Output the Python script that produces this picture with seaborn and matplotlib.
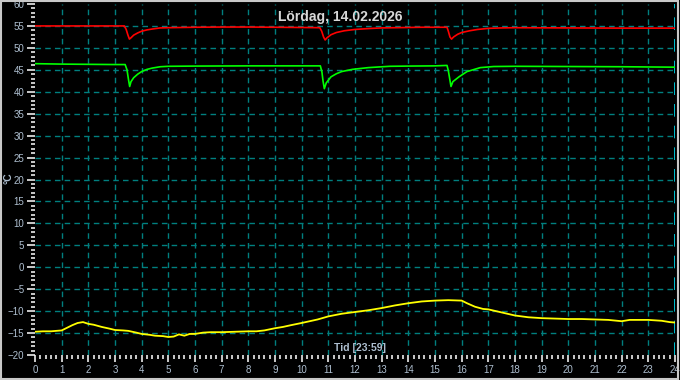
import matplotlib
matplotlib.use("Agg")
import matplotlib.pyplot as plt
import seaborn as sns
import pandas as pd
from matplotlib.patches import Rectangle
from matplotlib.ticker import MultipleLocator

# ---------------- data ----------------
title_text = "Lördag, 14.02.2026"
xlabel_text = "Tid [23:59]"
ylabel_text = "°C"

red_t = [0, 1.0, 2.0, 3.0, 3.35, 3.42, 3.48, 3.54, 3.6, 3.7, 3.85, 4.0, 4.2, 4.4, 4.7, 5.0,
         6.0, 7.0, 8.0, 9.0, 10.0, 10.68, 10.75, 10.82, 10.88, 10.95, 11.1, 11.3, 11.6,
         12.0, 12.5, 13.0, 13.5, 14.0, 14.5, 15.0, 15.45, 15.5, 15.56, 15.62, 15.7, 15.85,
         16.0, 16.3, 16.6, 17.0, 17.5, 18.0, 20.0, 22.0, 24.0]
red_v = [55.0, 55.0, 55.0, 55.0, 55.0, 54.2, 53.0, 52.0, 52.3, 52.9, 53.4, 53.8, 54.1, 54.3, 54.55, 54.6,
         54.7, 54.75, 54.75, 54.7, 54.65, 54.6, 53.8, 52.5, 51.8, 52.3, 53.0, 53.5, 53.9,
         54.2, 54.4, 54.55, 54.6, 54.65, 54.7, 54.7, 54.7, 53.8, 52.5, 52.0, 52.5, 53.1,
         53.5, 53.9, 54.2, 54.45, 54.55, 54.6, 54.55, 54.5, 54.5]

green_t = [0, 1.0, 2.0, 3.0, 3.38, 3.45, 3.5, 3.55, 3.6, 3.7, 3.85, 4.0, 4.2, 4.4, 4.7, 5.0,
           6.0, 8.0, 10.0, 10.7, 10.76, 10.8, 10.85, 10.92, 11.1, 11.3, 11.5, 11.9, 12.5,
           13.3, 14.0, 15.0, 15.45, 15.5, 15.55, 15.6, 15.67, 15.9, 16.2, 16.7, 17.2, 18.0,
           20.0, 22.0, 24.0]
green_v = [46.4, 46.3, 46.25, 46.2, 46.2, 45.0, 43.0, 41.2, 42.3, 43.2, 44.0, 44.6, 45.1, 45.4, 45.7, 45.8,
           45.85, 45.9, 45.9, 45.9, 44.5, 42.5, 40.7, 42.0, 43.4, 44.1, 44.6, 45.1, 45.5,
           45.8, 45.85, 45.9, 46.0, 44.8, 43.0, 41.2, 42.3, 43.4, 44.6, 45.5, 45.75, 45.8,
           45.75, 45.7, 45.6]

yellow_t = [0, 0.3, 0.6, 1.0, 1.2, 1.4, 1.6, 1.8, 2.0, 2.2, 2.5, 2.8, 3.0, 3.3, 3.5, 3.8,
            4.0, 4.3, 4.5, 4.8, 5.0, 5.2, 5.4, 5.6, 5.8, 6.0, 6.3, 6.6, 7.0, 7.5, 8.0, 8.3,
            8.6, 9.0, 9.3, 9.6, 10.0, 10.3, 10.6, 11.0, 11.5, 12.0, 12.5, 13.0, 13.5, 14.0,
            14.5, 15.0, 15.5, 16.0, 16.2, 16.5, 16.8, 17.0, 17.5, 18.0, 18.5, 19.0, 19.5,
            20.0, 20.5, 21.0, 21.5, 22.0, 22.3, 22.6, 23.0, 23.5, 23.8, 24.0]
yellow_v = [-14.7, -14.6, -14.6, -14.4, -13.8, -13.2, -12.7, -12.5, -12.9, -13.1, -13.6, -14.0, -14.3, -14.4, -14.5, -14.9,
            -15.2, -15.4, -15.6, -15.7, -15.9, -15.8, -15.3, -15.6, -15.2, -15.2, -14.9, -14.8, -14.8, -14.7, -14.6, -14.6,
            -14.4, -13.9, -13.6, -13.2, -12.7, -12.3, -11.9, -11.2, -10.6, -10.2, -9.8, -9.3, -8.7, -8.2,
            -7.8, -7.6, -7.5, -7.6, -8.2, -9.0, -9.5, -9.6, -10.3, -11.0, -11.4, -11.6, -11.7,
            -11.8, -11.8, -11.9, -12.0, -12.3, -12.0, -12.0, -12.0, -12.2, -12.5, -12.6]

x_ticks = list(range(0, 25))
y_ticks = list(range(-20, 61, 5))

# ---------------- style ----------------
BG = "#000000"
GRID = "#007f7f"
TICKTXT = "#aebfd0"
PT = 0.72  # points per pixel at 100 dpi

sns.set_style("ticks", rc={"axes.facecolor": BG, "figure.facecolor": BG})
plt.rcParams["font.family"] = ["Liberation Sans", "DejaVu Sans"]

fig = plt.figure(figsize=(6.8, 3.8), dpi=100, facecolor=BG)
ax = fig.add_axes([35 / 680, 1 - 355 / 380, 640 / 680, 351 / 380])
ax.set_facecolor(BG)

df_r = pd.DataFrame({"t": red_t, "v": red_v})
df_g = pd.DataFrame({"t": green_t, "v": green_v})
df_y = pd.DataFrame({"t": yellow_t, "v": yellow_v})

for xv in x_ticks[1:-1]:
    ax.axvline(xv, color=GRID, lw=1, ls=(0, (4, 3)), zorder=1)
for yv in y_ticks[1:-1]:
    ax.axhline(yv, color=GRID, lw=1, ls=(0, (4, 3)), zorder=1)
ax.axvline(24, color="#00d0e0", lw=1.3, ls=(0, (7, 5)), zorder=1)

sns.lineplot(data=df_r, x="t", y="v", ax=ax, color="#ff0000", lw=1.2, zorder=3)
sns.lineplot(data=df_g, x="t", y="v", ax=ax, color="#00ff00", lw=1.2, zorder=3)
sns.lineplot(data=df_y, x="t", y="v", ax=ax, color="#ffff00", lw=1.3, zorder=3)

ax.set_xlim(0, 24)
ax.set_ylim(-20, 60)
ax.set_xticks(x_ticks)
ax.set_yticks(y_ticks)
ax.xaxis.set_minor_locator(MultipleLocator(0.2))
ax.yaxis.set_minor_locator(MultipleLocator(1))
ax.grid(False)
for s in ax.spines.values():
    s.set_visible(False)
ax.tick_params(axis="both", which="both", bottom=True, left=True,
               color="#ffffff", width=1.1, direction="out")
ax.tick_params(axis="x", which="major", length=7 * PT, pad=2,
               labelsize=7, labelcolor=TICKTXT)
ax.tick_params(axis="x", which="minor", length=4 * PT)
ax.tick_params(axis="y", which="major", length=8 * PT, pad=2,
               labelsize=7, labelcolor=TICKTXT)
ax.tick_params(axis="y", which="minor", length=4 * PT)
ax.set_xlabel("")
ax.set_ylabel("")

fig.text(340 / 680, 1 - 17 / 380, title_text, color="#d8d8d8", fontsize=10,
         fontweight="bold", ha="center", va="center")
fig.text(360 / 680, 1 - 348 / 380, xlabel_text, color=TICKTXT, fontsize=7.5,
         fontweight="bold", ha="center", va="center")
fig.text(9 / 680, 1 - 178 / 380, ylabel_text, color=TICKTXT, fontsize=7.5,
         fontweight="bold", rotation=90, ha="center", va="center")

fig.patches.append(Rectangle((0.001, 0.002), 0.996, 0.995, transform=fig.transFigure,
                             fill=False, edgecolor="#c8c8c8", lw=1.5))

fig.savefig("out.png", dpi=100, facecolor=BG)
